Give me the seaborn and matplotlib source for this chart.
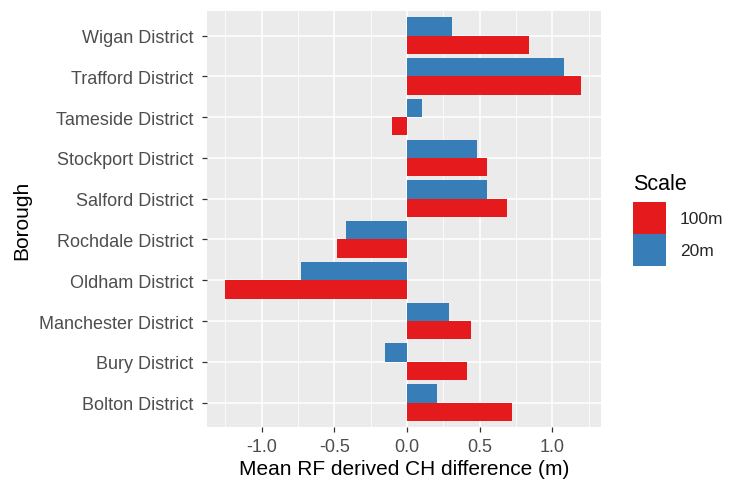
import matplotlib
matplotlib.use("Agg")
import matplotlib.pyplot as plt
from matplotlib.patches import Patch
from matplotlib.ticker import MultipleLocator, FormatStrFormatter
import seaborn as sns
import pandas as pd

boroughs = ["Wigan District", "Trafford District", "Tameside District",
            "Stockport District", "Salford District", "Rochdale District",
            "Oldham District", "Manchester District", "Bury District",
            "Bolton District"]
diff_20m = [0.31, 1.08, 0.10, 0.48, 0.55, -0.42, -0.73, 0.29, -0.15, 0.21]
diff_100m = [0.84, 1.20, -0.10, 0.55, 0.69, -0.48, -1.25, 0.44, 0.41, 0.72]
scales = ["100m", "20m"]
palette = {"100m": "#E41A1C", "20m": "#377EB8"}

df = pd.DataFrame({
    "Borough": boroughs * 2,
    "Scale": ["20m"] * len(boroughs) + ["100m"] * len(boroughs),
    "diff": diff_20m + diff_100m,
})

sns.set_theme(style="darkgrid")
plt.rcParams["font.family"] = ["Liberation Sans", "DejaVu Sans"]

fig = plt.figure(figsize=(7.3, 4.85), dpi=100)
ax = fig.add_axes([0.2836, 0.1175, 0.823 - 0.2836, 0.975 - 0.1175])

sns.barplot(data=df, y="Borough", x="diff", hue="Scale",
            order=boroughs, hue_order=["20m", "100m"], palette=palette,
            width=0.9, orient="h", ax=ax, legend=False,
            saturation=1, errorbar=None, linewidth=0)

ax.set_facecolor("#EBEBEB")
ax.set_xlim(-1.375, 1.333)
ax.set_ylim(9.6, -0.6)
ax.xaxis.set_major_locator(MultipleLocator(0.5))
ax.xaxis.set_minor_locator(MultipleLocator(0.25))
ax.xaxis.set_major_formatter(FormatStrFormatter("%.1f"))
ax.grid(which="major", color="white", linewidth=1.1)
ax.grid(which="minor", axis="x", color="white", linewidth=0.55)
ax.set_axisbelow(True)
for s in ax.spines.values():
    s.set_visible(False)

ax.tick_params(axis="both", which="major", bottom=True, left=True,
               length=3.6, width=0.9, color="#333333",
               labelcolor="#4D4D4D", labelsize=13)
ax.tick_params(axis="x", which="major", pad=4)
ax.tick_params(axis="y", which="major", pad=6)
ax.tick_params(axis="both", which="minor", length=0)
ax.set_xlabel("Mean RF derived CH difference (m)", fontsize=15,
              color="black", labelpad=3)
ax.set_ylabel("Borough", fontsize=15, color="black", labelpad=6)

# legend: title as separate text, large square keys below
fig.text(633 / 730, 1 - 185 / 485, "Scale", fontsize=15.5, color="black",
         ha="left", va="center")
handles = [Patch(facecolor=palette[s], edgecolor="none") for s in scales]
leg = fig.legend(handles, scales, loc="upper left",
                 bbox_to_anchor=(633 / 730, 1 - 203 / 485), frameon=False,
                 fontsize=12.5, handlelength=1.9, handleheight=2.45,
                 labelspacing=0.0, handletextpad=0.8, borderpad=0,
                 borderaxespad=0)

fig.savefig("out.png", dpi=100)
